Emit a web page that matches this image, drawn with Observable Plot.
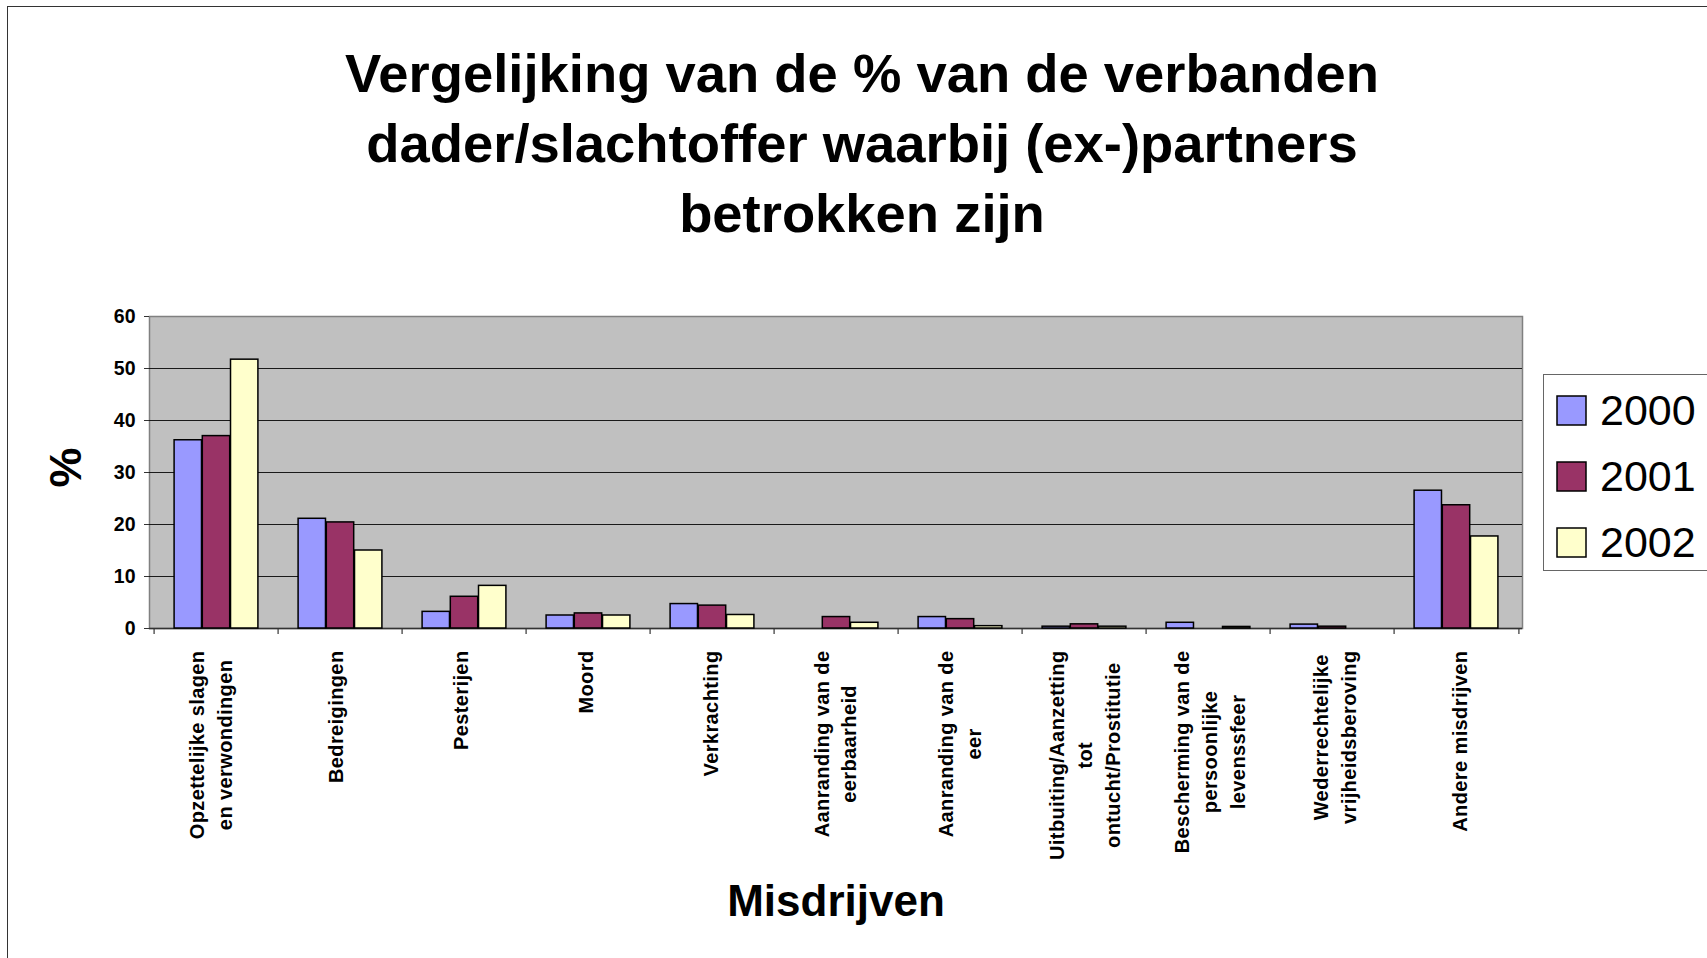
<!DOCTYPE html>
<html>
<head>
<meta charset="utf-8">
<script src="https://cdn.jsdelivr.net/npm/d3@7"></script>
<script src="https://cdn.jsdelivr.net/npm/@observablehq/plot@0.6"></script>
<style>
  html, body { margin: 0; padding: 0; background: #fff; }
  body { font-family: "Liberation Sans", Arial, sans-serif; }
  #page { position: relative; width: 1707px; height: 958px; overflow: hidden; background: #fff; }
  #border { position: absolute; left: 7px; top: 6px; width: 1720px; height: 970px; border-top: 1.5px solid #333; border-left: 1.5px solid #333; }
  #chart { position: absolute; left: 0; top: 0; }
  #title { position: absolute; left: 0; top: 39px; width: 1724px; text-align: center; font-weight: bold; font-size: 54.4px; line-height: 70px; color: #000; }
  #legend { position: absolute; left: 1543px; top: 374px; width: 166px; height: 197px; border: 1.5px solid #666; box-sizing: border-box; background: #fff; padding: 3px 0 0 13px; }
  #legend .lg-swatches { font-family: "Liberation Sans", Arial, sans-serif; font-size: 43px; margin: 0; color: #000; }
  #legend .lg-swatch { height: 65.8px; padding: 0; margin: 0; display: flex; align-items: center; }
  #legend .lg-swatch svg { margin-right: 14px; overflow: visible; }
  #legend .lg-swatch svg rect { stroke: #000; stroke-width: 1.5px; }
  #legend .lg-swatch-label { overflow: visible; }
  #chart [aria-label="x-axis tick label"] text { letter-spacing: 0.4px; }
</style>
</head>
<body>
<div id="page">
  <div id="border"></div>
  <div id="chart"></div>
  <div id="title"></div>
  <div id="legend"></div>
</div>
<script>
// ---- data ----
const titleLines = [
  "Vergelijking van de % van de verbanden",
  "dader/slachtoffer waarbij (ex-)partners",
  "betrokken zijn"
];
const categories = [
  "Opzettelijke slagen\nen verwondingen",
  "Bedreigingen",
  "Pesterijen",
  "Moord",
  "Verkrachting",
  "Aanranding van de\neerbaarheid",
  "Aanranding van de\neer",
  "Uitbuiting/Aanzetting\ntot\nontucht/Prostitutie",
  "Bescherming van de\npersoonlijke\nlevenssfeer",
  "Wederrechtelijke\nvrijheidsberoving",
  "Andere misdrijven"
];
const years = ["2000", "2001", "2002"];
const v2000 = [36.2, 21.1, 3.2, 2.5, 4.7, 0, 2.2, 0.35, 1.1, 0.75, 26.5];
const v2001 = [37.0, 20.4, 6.1, 2.9, 4.4, 2.2, 1.8, 0.8, 0, 0.35, 23.7];
const v2002 = [51.7, 15.0, 8.2, 2.5, 2.6, 1.1, 0.45, 0.35, 0.3, 0, 17.7];
const yTicks = [0, 10, 20, 30, 40, 50, 60];
const colors = ["#9999FF", "#993366", "#FFFFCC"];
const yLabel = "%";
const xLabel = "Misdrijven";

// ---- layout ----
const FONT = "'Liberation Sans', Arial, sans-serif";
const W = 1707, H = 958;
const mL = 149, mR = 185, mT = 316, mB = 330;
const bandW = (W - mL - mR) / categories.length;
const barW = bandW * 0.226;
const gap = (bandW - years.length * barW) / 2;

const series = [v2000, v2001, v2002];
const rows = years.flatMap((yr, i) => categories.map((c, j) => ({cat: c, year: yr, value: series[i][j]})));

document.getElementById("title").innerHTML = titleLines.join("<br>");

const barMarks = years.map((yr, i) =>
  Plot.barY(rows.filter(d => d.year === yr && d.value > 0), {
    x: "cat", y: "value", fill: "year",
    stroke: "#000", strokeWidth: 1.5,
    insetLeft: gap + i * barW,
    insetRight: gap + (years.length - 1 - i) * barW
  })
);

const chart = Plot.plot({
  width: W, height: H,
  marginLeft: mL, marginRight: mR, marginTop: mT, marginBottom: mB,
  style: {fontFamily: FONT, background: "transparent", overflow: "visible", color: "#000"},
  x: {domain: categories, padding: 0, axis: null},
  y: {domain: [0, 60], axis: null},
  color: {domain: years, range: colors},
  marks: [
    Plot.frame({fill: "#C0C0C0", stroke: "#808080", strokeWidth: 1.5}),
    Plot.ruleY(yTicks.filter(t => t > 0 && t < 60), {stroke: "#1a1a1a", strokeWidth: 1}),
    Plot.ruleY([0], {stroke: "#333", strokeWidth: 1.5}),
    ...barMarks,
    Plot.ruleX(categories, {x: d => d, dx: -bandW / 2, y1: 0, y2: 0, insetBottom: -6, stroke: "#333", strokeWidth: 1.2}),
    Plot.ruleX(categories.slice(-1), {x: d => d, dx: bandW / 2, y1: 0, y2: 0, insetBottom: -6, stroke: "#333", strokeWidth: 1.2}),
    Plot.axisY(yTicks, {tickSize: 5, tickPadding: 9, fontSize: 19.5, fontWeight: "bold", label: null, stroke: "#333"}),
    Plot.axisX({tickSize: 0, tickPadding: 22, tickRotate: -90, fontSize: 20, fontWeight: "bold", lineHeight: 28 / 20, label: null}),
    Plot.text([yLabel], {frameAnchor: "left", dx: -83, dy: 15, rotate: -90, fontSize: 45, fontWeight: "bold"}),
    Plot.text([xLabel], {frameAnchor: "bottom", dy: 287, fontSize: 44, fontWeight: "bold"})
  ]
});
document.getElementById("chart").appendChild(chart);

// Excel-style category labels: block top-aligned under the axis, lines centred in the block,
// block centred on its category
const xs = chart.scale("x");
const xsc = d3.scaleBand(xs.domain, xs.range).paddingInner(0).paddingOuter(0);
d3.select(chart).selectAll('[aria-label="x-axis tick label"] text').each(function (d, k) {
  const bb = this.getBBox();
  const w = bb.width;
  const t = this.getAttribute("transform") || "";
  this.setAttribute("text-anchor", "middle");
  this.setAttribute("transform", t + ` translate(${-w / 2},0)`);
  const r = this.getBoundingClientRect();
  const cx = (r.left + r.right) / 2;
  const target = xsc(categories[k]) + xsc.bandwidth() / 2;
  this.setAttribute("transform", `translate(${target - cx},0) ` + this.getAttribute("transform"));
});

const legend = Plot.legend({
  legend: "swatches",
  color: {type: "ordinal", domain: years, range: colors},
  columns: 1,
  swatchSize: 29,
  className: "lg"
});
document.getElementById("legend").appendChild(legend);
</script>
</body>
</html>
